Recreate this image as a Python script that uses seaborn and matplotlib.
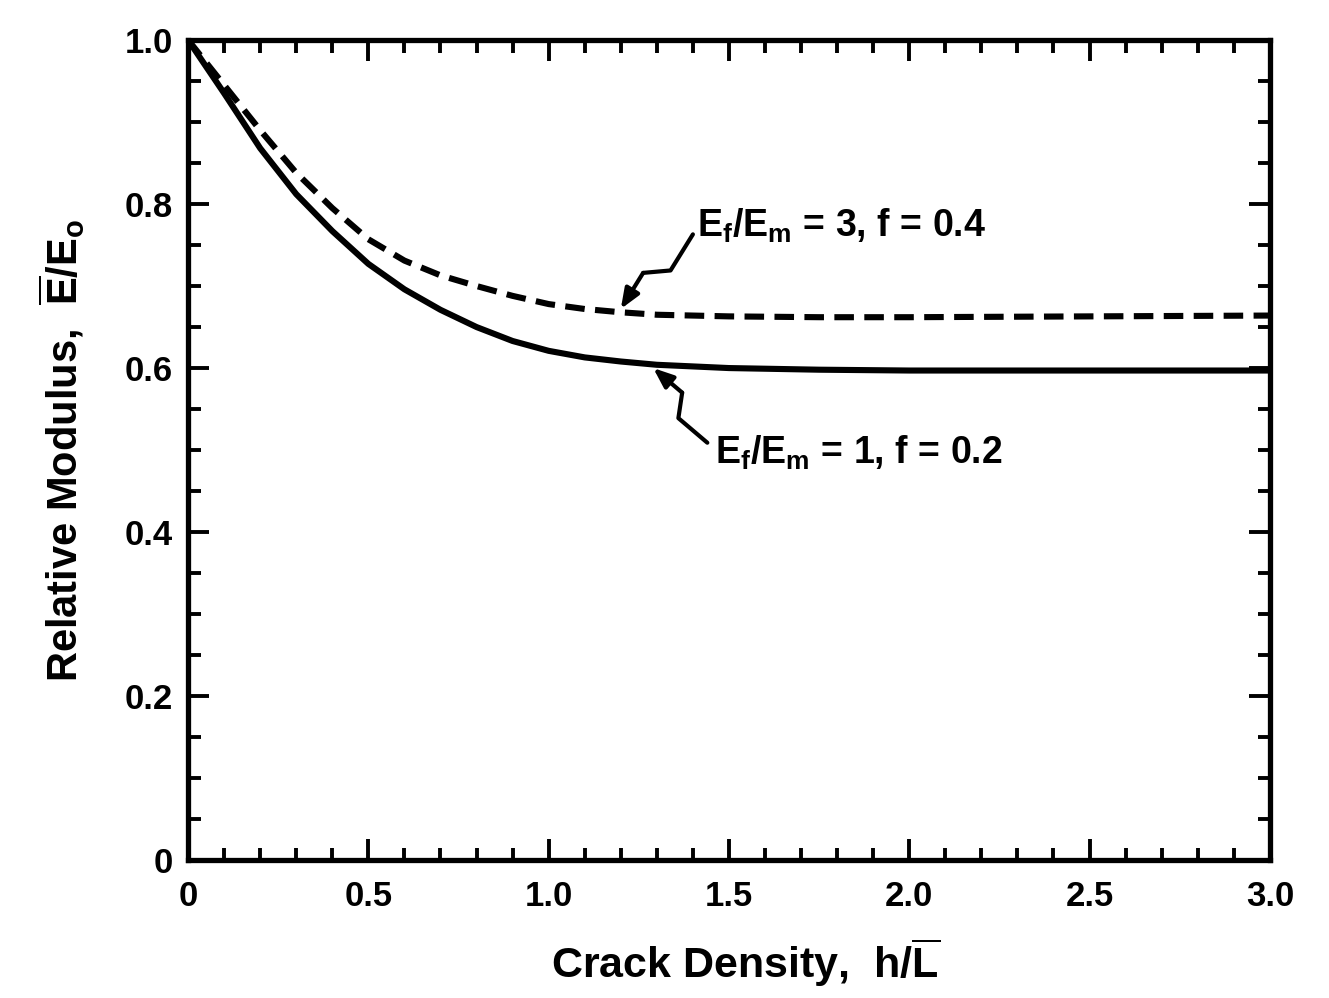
import numpy as np
import matplotlib
matplotlib.use('Agg')
import matplotlib.pyplot as plt
from matplotlib.ticker import FixedLocator, MultipleLocator
import seaborn as sns

sns.set_theme(style="ticks")
plt.rcParams['font.family'] = ['Liberation Sans', 'DejaVu Sans']
plt.rcParams['font.weight'] = 'bold'
plt.rcParams['axes.labelweight'] = 'bold'
plt.rcParams['mathtext.fontset'] = 'custom'
plt.rcParams['mathtext.rm'] = 'Liberation Sans:bold'
plt.rcParams['mathtext.it'] = 'Liberation Sans:italic:bold'
plt.rcParams['mathtext.bf'] = 'Liberation Sans:bold'

# values
crack_density = [0, 0.1, 0.2, 0.3, 0.4, 0.5, 0.6, 0.7, 0.8, 0.9, 1.0,
                 1.1, 1.2, 1.3, 1.5, 1.75, 2.0, 2.5, 3.0]
modulus_ef1 = [1.000, 0.935, 0.868, 0.812, 0.767, 0.727, 0.696, 0.671, 0.650, 0.633,
               0.621, 0.613, 0.608, 0.604, 0.600, 0.598, 0.597, 0.597, 0.597]   # Ef/Em = 1, f = 0.2
modulus_ef3 = [1.000, 0.945, 0.890, 0.838, 0.795, 0.757, 0.731, 0.713, 0.700, 0.688,
               0.678, 0.672, 0.668, 0.665, 0.663, 0.662, 0.662, 0.663, 0.664]   # Ef/Em = 3, f = 0.4

x_ticks = [0, 0.5, 1.0, 1.5, 2.0, 2.5, 3.0]
x_tick_labels = ['0', '0.5', '1.0', '1.5', '2.0', '2.5', '3.0']
y_ticks = [0, 0.2, 0.4, 0.6, 0.8, 1.0]
y_tick_labels = ['0', '0.2', '0.4', '0.6', '0.8', '1.0']

label_ef3 = r'$\mathregular{E_f/E_m}$ = 3, f = 0.4'
label_ef1 = r'$\mathregular{E_f/E_m}$ = 1, f = 0.2'


def squiggle_arrow(ax, tail, head):
    # lightning-bolt style leader, built in pixel-ish units
    sx, sy = 360.0, 820.0
    t = np.array([tail[0] * sx, tail[1] * sy])
    h = np.array([head[0] * sx, head[1] * sy])
    d = h - t
    u = d / np.hypot(*d)
    n = np.array([-u[1], u[0]])
    a = t + 0.40 * d + n * 9
    b = t + 0.60 * d - n * 9
    pts = np.array([t, a, b]) / [sx, sy]
    ax.plot(pts[:, 0], pts[:, 1], color='black', lw=3, solid_joinstyle='round',
            solid_capstyle='round')
    ax.annotate('', xy=head, xytext=tuple(pts[-1]),
                arrowprops=dict(arrowstyle='-|>,head_length=1.0,head_width=0.4',
                                color='black', lw=3, shrinkA=0, shrinkB=0))


def main():
    fig = plt.figure(figsize=(13.29, 9.98), dpi=100)
    ax = fig.add_axes([0.1415, 0.138, 0.814, 0.822])

    sns.lineplot(x=crack_density, y=modulus_ef1, ax=ax, color='black', linewidth=4.4)
    sns.lineplot(x=crack_density, y=modulus_ef3, ax=ax, color='black', linewidth=4.4)
    ax.lines[-1].set_dashes([3.2, 1.7])

    ax.set_xlim(0, 3.0)
    ax.set_ylim(0, 1.0)
    ax.xaxis.set_major_locator(FixedLocator(x_ticks))
    ax.set_xticklabels(x_tick_labels)
    ax.yaxis.set_major_locator(FixedLocator(y_ticks))
    ax.set_yticklabels(y_tick_labels)
    ax.xaxis.set_minor_locator(MultipleLocator(0.1))
    ax.yaxis.set_minor_locator(MultipleLocator(0.05))

    ax.tick_params(which='both', direction='in', top=True, right=True,
                   width=2.8, color='black', labelsize=25, labelcolor='black')
    ax.tick_params(which='major', length=15)
    ax.tick_params(which='minor', length=9)
    ax.tick_params(axis='x', which='major', pad=14)
    ax.tick_params(axis='y', which='major', pad=11)

    for spine in ax.spines.values():
        spine.set_visible(True)
        spine.set_linewidth(3.8)
        spine.set_color('black')

    ax.set_xlabel(r'Crack Density,  h/$\overline{\mathregular{L}}$', fontsize=31, color='black')
    ax.set_ylabel(r'Relative Modulus,  $\overline{\mathregular{E}}/\mathregular{E_o}$',
                  fontsize=30, color='black')
    ax.xaxis.set_label_coords(0.515, -0.093)
    ax.yaxis.set_label_coords(-0.093, 0.5)

    ax.text(1.41, 0.773, label_ef3, fontsize=27, ha='left', va='center', color='black')
    ax.text(1.46, 0.497, label_ef1, fontsize=27, ha='left', va='center', color='black')
    squiggle_arrow(ax, (1.40, 0.763), (1.20, 0.672))
    squiggle_arrow(ax, (1.44, 0.509), (1.29, 0.600))

    fig.savefig('out.png', dpi=100)
    plt.close(fig)


if __name__ == "__main__":
    main()
